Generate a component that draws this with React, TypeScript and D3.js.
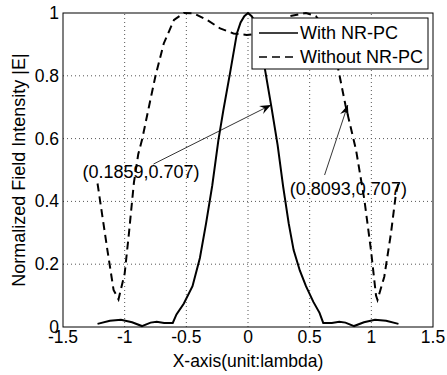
import React from "react";
import * as d3 from "d3";

// ---- Data ----
const withX = [-1.22, -1.12, -1.03, -0.94, -0.86, -0.79, -0.74, -0.68, -0.61, -0.58, -0.52, -0.45, -0.39, -0.34, -0.29, -0.24, -0.2, -0.145, -0.09, -0.06, -0.03, 0, 0.03, 0.06, 0.09, 0.14, 0.19, 0.24, 0.285, 0.33, 0.37, 0.42, 0.47, 0.53, 0.58, 0.61, 0.68, 0.74, 0.79, 0.86, 0.94, 1.03, 1.12, 1.22];
const withY = [0.010, 0.020, 0.023, 0.015, 0.003, 0.014, 0.017, 0.013, 0.013, 0.04, 0.075, 0.13, 0.22, 0.33, 0.45, 0.595, 0.69, 0.81, 0.935, 0.97, 0.99, 1.0, 0.99, 0.97, 0.935, 0.815, 0.70, 0.58, 0.447, 0.33, 0.245, 0.18, 0.13, 0.08, 0.045, 0.013, 0.013, 0.017, 0.014, 0.003, 0.015, 0.023, 0.020, 0.010];

const withoutX = [-1.22, -1.18, -1.14, -1.09, -1.05, -1.0, -0.965, -0.925, -0.89, -0.857, -0.804, -0.75, -0.683, -0.6, -0.52, -0.44, -0.333, -0.226, -0.118, -0.01, 0.1, 0.22, 0.34, 0.47, 0.55, 0.63, 0.68, 0.73, 0.79, 0.876, 0.944, 0.997, 1.038, 1.05, 1.105, 1.159, 1.2, 1.22];
const withoutY = [0.457, 0.351, 0.245, 0.118, 0.088, 0.17, 0.30, 0.46, 0.55, 0.60, 0.70, 0.80, 0.903, 0.978, 1.0, 0.999, 0.978, 0.951, 0.935, 0.93, 0.935, 0.955, 0.99, 1.0, 0.99, 0.95, 0.90, 0.825, 0.707, 0.564, 0.404, 0.245, 0.10, 0.086, 0.16, 0.298, 0.426, 0.457];

const xTicks = [-1.5, -1, -0.5, 0, 0.5, 1, 1.5];
const xTickLabels = ["-1.5", "-1", "-0.5", "0", "0.5", "1", "1.5"];
const yTicks = [0, 0.2, 0.4, 0.6, 0.8, 1];
const yTickLabels = ["0", "0.2", "0.4", "0.6", "0.8", "1"];

const seriesNames = ["With NR-PC", "Without NR-PC"];
const xLabel = "X-axis(unit:lambda)";
const yLabel = "Normalized Field Intensity |E|";

// annotations: head (data), tail (data), text anchor (data)
const annoText = ["(0.1859,0.707)", "(0.8093,0.707)"];
const annoHeadX = [0.1859, 0.8093];
const annoHeadY = [0.707, 0.707];
const annoTailX = [-0.766, 0.621];
const annoTailY = [0.519, 0.484];
const annoTextX = [-1.342, 0.339];
const annoTextY = [0.474, 0.42];

const W = 447, H = 375;
const L = 63, R = 433, T = 13, B = 327;
const FONT = "'Liberation Sans', Arial, Helvetica, sans-serif";
const FS = 17.5;
const FS2 = 18;

export default function App() {
  const x = d3.scaleLinear().domain([-1.5, 1.5]).range([L, R]);
  const y = d3.scaleLinear().domain([0, 1]).range([B, T]);
  const line = d3.line<[number, number]>().x(d => x(d[0])).y(d => y(d[1]));
  const withPts = withX.map((v, i) => [v, withY[i]] as [number, number]);
  const withoutPts = withoutX.map((v, i) => [v, withoutY[i]] as [number, number]);

  const arrowHead = (hx: number, hy: number, tx: number, ty: number) => {
    const ang = Math.atan2(hy - ty, hx - tx);
    const len = 11, half = 4.5, notch = 7;
    const pts: [number, number][] = [[0, 0], [-len, -half], [-notch, 0], [-len, half]];
    const c = Math.cos(ang), s = Math.sin(ang);
    return "M" + pts.map(([px, py]) => `${hx + px * c - py * s},${hy + px * s + py * c}`).join("L") + "Z";
  };

  const lgX = 252, lgY = 18, lgW = 176, lgH = 51;

  return (
    <svg width={W} height={H} style={{ position: "absolute", left: 0, top: 0, background: "#fff" }} fontFamily={FONT}>
      <rect x={0} y={0} width={W} height={H} fill="#fff" />
      {/* grid */}
      {xTicks.slice(1, -1).map((t, i) => (
        <line key={"gx" + i} x1={x(t)} x2={x(t)} y1={B} y2={T} stroke="#555" strokeWidth={1} strokeDasharray="1,3" />
      ))}
      {yTicks.slice(1, -1).map((t, i) => (
        <line key={"gy" + i} x1={L} x2={R} y1={y(t)} y2={y(t)} stroke="#555" strokeWidth={1} strokeDasharray="1,3" />
      ))}
      {/* series */}
      <path d={line(withoutPts) || ""} fill="none" stroke="#000" strokeWidth={2} strokeDasharray="8,5" />
      <path d={line(withPts) || ""} fill="none" stroke="#000" strokeWidth={2} />
      {/* axes box */}
      <rect x={L} y={T} width={R - L} height={B - T} fill="none" stroke="#000" strokeWidth={1} />
      {/* tick labels */}
      {xTicks.map((t, i) => (
        <text key={"xt" + i} x={x(t)} y={B + 16} textAnchor="middle" fontSize={FS}>{xTickLabels[i]}</text>
      ))}
      {yTicks.map((t, i) => (
        <text key={"yt" + i} x={L - 4} y={y(t) + 6} textAnchor="end" fontSize={FS}>{yTickLabels[i]}</text>
      ))}
      {/* axis labels */}
      <text x={(L + R) / 2} y={367} textAnchor="middle" fontSize={FS}>{xLabel}</text>
      <text transform={`translate(25,${(T + B) / 2}) rotate(-90)`} textAnchor="middle" fontSize={FS2}>{yLabel}</text>
      {/* annotations */}
      {annoText.map((s, i) => {
        const hx = x(annoHeadX[i]), hy = y(annoHeadY[i]);
        const tx = x(annoTailX[i]), ty = y(annoTailY[i]);
        return (
          <g key={"an" + i}>
            <line x1={tx} y1={ty} x2={hx} y2={hy} stroke="#000" strokeWidth={0.8} />
            <path d={arrowHead(hx, hy, tx, ty)} fill="#000" />
            <text x={x(annoTextX[i])} y={y(annoTextY[i])} fontSize={FS2}>{s}</text>
          </g>
        );
      })}
      {/* legend */}
      <rect x={lgX} y={lgY} width={lgW} height={lgH} fill="#fff" stroke="#000" strokeWidth={1} />
      <line x1={259} x2={298} y1={33} y2={33} stroke="#000" strokeWidth={1.5} />
      <line x1={259} x2={298} y1={57} y2={57} stroke="#000" strokeWidth={1.5} strokeDasharray="8,5" />
      <text x={300} y={39} fontSize={FS2}>{seriesNames[0]}</text>
      <text x={300} y={63} fontSize={FS2}>{seriesNames[1]}</text>
    </svg>
  );
}
